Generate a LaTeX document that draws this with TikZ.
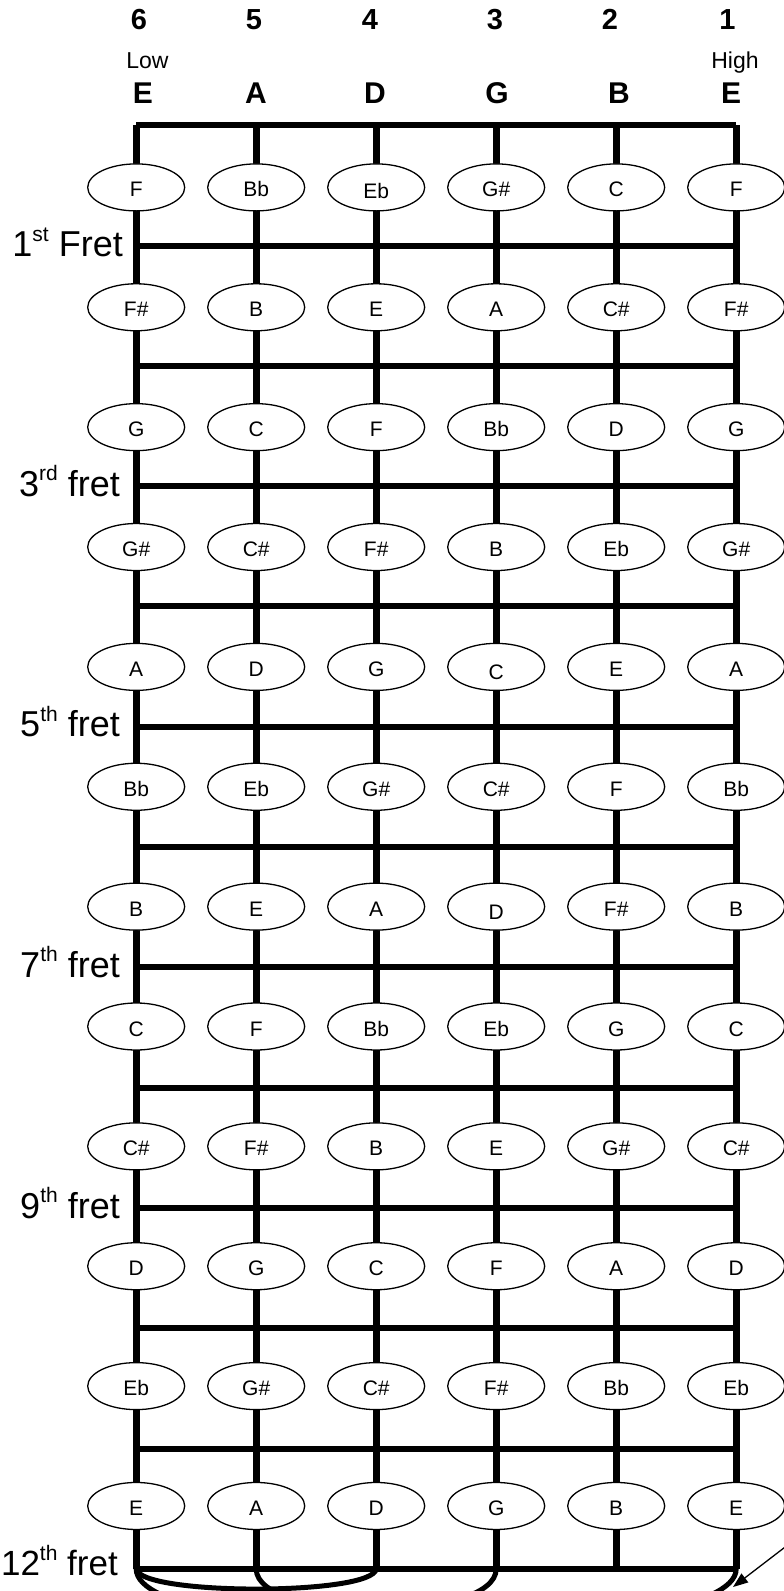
\documentclass[tikz,border=0pt]{standalone}
\usepackage{fontspec}
\setmainfont{Liberation Sans}
\usetikzlibrary{shapes.geometric,arrows.meta}
\newcommand{\fsup}[1]{\raisebox{15.5pt}{\fontsize{21}{21}\selectfont #1}}
\begin{document}
\begin{tikzpicture}[x=1pt,y=-1pt,
  fretline/.style={line width=6pt},
  stringline/.style={line width=7pt},
  arcline/.style={line width=5pt},
  arrowline/.style={line width=1.3pt,-{Triangle[length=15pt,width=11pt]}},
  noteell/.style={ellipse,draw,line width=1.3pt,fill=white,minimum width=97pt,minimum height=47pt,inner sep=0pt},
  notetxt/.style={font=\fontsize{21}{21}\selectfont,inner sep=0pt,text height=15pt,text depth=0pt},
  fretlab/.style={font=\fontsize{36}{36}\selectfont,anchor=base east,inner sep=0pt},
  numlab/.style={font=\bfseries\fontsize{29}{29}\selectfont,anchor=base,inner sep=0pt},
  letlab/.style={font=\bfseries\fontsize{30}{30}\selectfont,anchor=base,inner sep=0pt},
  pitchlab/.style={font=\fontsize{23}{23}\selectfont,anchor=base,inner sep=0pt}]
\useasboundingbox (0,0) rectangle (784,1591);
\clip (0,0) rectangle (784,1591);

% coordinates of strings (c=1 is string 6, left) and frets
\foreach \c in {1,...,6}{
  \coordinate (top-\c) at ({136.2+120*(\c-1)},125.2);
  \coordinate (bot-\c) at ({136.2+120*(\c-1)},1568.8);
}
\foreach \k in {0,...,12}{
  \coordinate (fl-\k) at (136.2,{125.2+120.3*\k});
  \coordinate (fr-\k) at (736.2,{125.2+120.3*\k});
}

% nut and frets
\foreach \k in {0,...,12}{
  \draw[fretline] (fl-\k) -- (fr-\k);
}
% strings
\foreach \c in {1,...,6}{
  \draw[stringline] (top-\c) -- (bot-\c);
}

% arcs below the 12th fret
\draw[arcline] (bot-1) .. controls +(3,27) and +(-3,27) .. (bot-3);
\draw[arcline] (bot-2) .. controls +(0,54) and +(0,54) .. (bot-4);
\draw[arcline] (bot-1) .. controls +(0,80) and +(0,80) .. (bot-6);

% arrow
\coordinate (arrS) at (806,1531);
\coordinate (arrT) at (733,1587);
\draw[arrowline] (arrS) -- (arrT);

% notes
\foreach \row [count=\r] in {
  {F,Bb,Eb,G\#,C,F},
  {F\#,B,E,A,C\#,F\#},
  {G,C,F,Bb,D,G},
  {G\#,C\#,F\#,B,Eb,G\#},
  {A,D,G,C,E,A},
  {Bb,Eb,G\#,C\#,F,Bb},
  {B,E,A,D,F\#,B},
  {C,F,Bb,Eb,G,C},
  {C\#,F\#,B,E,G\#,C\#},
  {D,G,C,F,A,D},
  {Eb,G\#,C\#,F\#,Bb,Eb},
  {E,A,D,G,B,E}}{
  \foreach \n [count=\c] in \row {
    \pgfmathsetmacro\ys{-2-2*(\r==1)*(\c==3)-3*(\r==5)*(\c==4)-3*(\r==7)*(\c==4)}
    \node[noteell] (n-\r-\c) at ({136.2+120*(\c-1)},{187.4+119.87*(\r-1)}) {};
    \node[notetxt,yshift=\ys pt] (t-\r-\c) at (n-\r-\c) {\n};
  }
}

% fret labels
\node[fretlab] (f1) at (123,256.5) {1\fsup{st} Fret};
\node[fretlab] (f3) at (120,496) {3\fsup{rd} fret};
\node[fretlab] (f5) at (120,736.7) {5\fsup{th} fret};
\node[fretlab] (f7) at (120,977.3) {7\fsup{th} fret};
\node[fretlab] (f9) at (120,1218) {9\fsup{th} fret};
\node[fretlab,font=\fontsize{35}{35}\selectfont] (f12) at (118,1575.8) {12\fsup{th} fret};

% top labels
\node[numlab] (num6) at (139,29.5) {6};
\node[numlab] (num5) at (254,29.5) {5};
\node[numlab] (num4) at (370,29.5) {4};
\node[numlab] (num3) at (495,29.5) {3};
\node[numlab] (num2) at (610,29.5) {2};
\node[numlab] (num1) at (727.5,29.5) {1};
\node[pitchlab] (low) at (147.5,68.3) {Low};
\node[pitchlab] (high) at (735,68.3) {High};
\node[letlab] (s6) at (143,103.3) {E};
\node[letlab] (s5) at (256,103.3) {A};
\node[letlab] (s4) at (375,103.3) {D};
\node[letlab] (s3) at (497,103.3) {G};
\node[letlab] (s2) at (619,103.3) {B};
\node[letlab] (s1) at (731,103.3) {E};
\end{tikzpicture}
\end{document}
